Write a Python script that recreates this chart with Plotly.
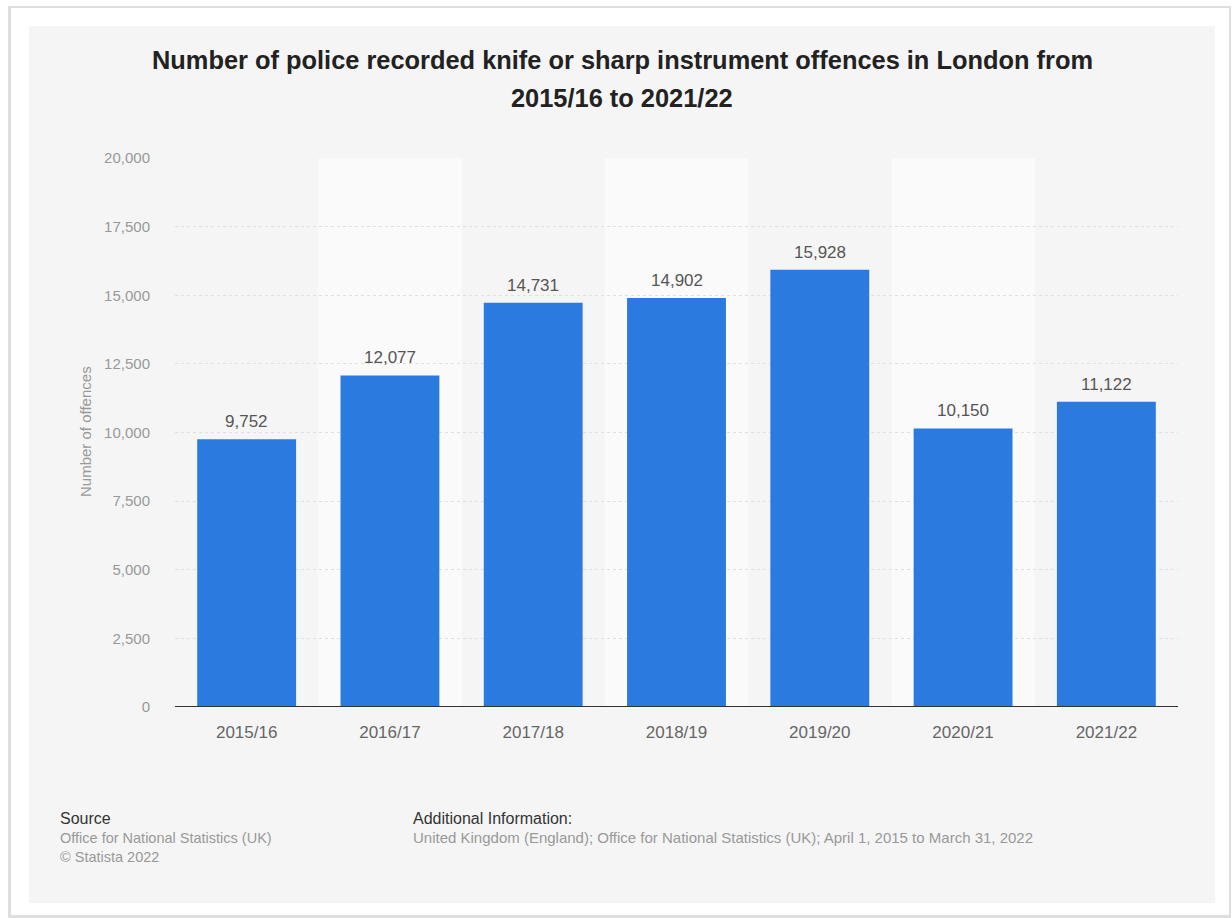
import plotly.graph_objects as go

years = ["2015/16", "2016/17", "2017/18", "2018/19", "2019/20", "2020/21", "2021/22"]
offences = [9752, 12077, 14731, 14902, 15928, 10150, 11122]
y_ticks = [0, 2500, 5000, 7500, 10000, 12500, 15000, 17500, 20000]

W, H = 1232, 918
PL, PR, PT, PB = 175, 1178, 158, 707  # plot area in pixels

def px(x):
    return (x - PL) / (PR - PL)

def py(y):
    return (PB - y) / (PB - PT)

font_fam = "Liberation Sans, Arial, Helvetica, sans-serif"

fig = go.Figure()
fig.add_trace(go.Bar(
    x=years, y=offences,
    marker=dict(color="#2b7ae0", line=dict(width=0)),
    width=0.69,
    cliponaxis=False,
    hoverinfo="x+y",
))

shapes = []
# outer shadow + white card
shapes.append(dict(type="rect", xref="paper", yref="paper",
                   x0=px(8), x1=px(1231), y0=py(918), y1=py(6),
                   fillcolor="#dedede", line=dict(width=0), layer="below"))
shapes.append(dict(type="rect", xref="paper", yref="paper",
                   x0=px(11), x1=px(1229), y0=py(915), y1=py(8),
                   fillcolor="#ffffff", line=dict(width=0), layer="below"))
# gray panel
shapes.append(dict(type="rect", xref="paper", yref="paper",
                   x0=px(29), x1=px(1215), y0=py(903), y1=py(26),
                   fillcolor="#f5f5f5", line=dict(width=0), layer="below"))
# alternating column bands
for i in range(len(years)):
    if i % 2 == 1:
        shapes.append(dict(type="rect", xref="x", yref="paper",
                           x0=i - 0.5, x1=i + 0.5, y0=0, y1=1,
                           fillcolor="#fafafa", line=dict(width=0), layer="below"))
# baseline
shapes.append(dict(type="line", xref="paper", yref="y",
                   x0=0, x1=1, y0=0, y1=0,
                   line=dict(color="#333333", width=2), layer="above"))

annotations = [
    dict(text="<b>Number of police recorded knife or sharp instrument offences in London from</b>",
         xref="paper", yref="paper", x=px(622), y=py(60), showarrow=False,
         xanchor="center", yanchor="middle",
         font=dict(family=font_fam, size=25.4, color="#222222")),
    dict(text="<b>2015/16 to 2021/22</b>",
         xref="paper", yref="paper", x=px(622), y=py(98), showarrow=False,
         xanchor="center", yanchor="middle",
         font=dict(family=font_fam, size=25.4, color="#222222")),
    dict(text="Number of offences", textangle=-90,
         xref="paper", yref="paper", x=px(85), y=py(432), showarrow=False,
         xanchor="center", yanchor="middle",
         font=dict(family=font_fam, size=15, color="#999999")),
    dict(text="Source", xref="paper", yref="paper", x=px(58), y=py(818),
         showarrow=False, xanchor="left", yanchor="middle",
         font=dict(family=font_fam, size=16, color="#333333")),
    dict(text="Office for National Statistics (UK)", xref="paper", yref="paper",
         x=px(58), y=py(838), showarrow=False, xanchor="left", yanchor="middle",
         font=dict(family=font_fam, size=14.5, color="#999999")),
    dict(text="© Statista 2022", xref="paper", yref="paper",
         x=px(58), y=py(857), showarrow=False, xanchor="left", yanchor="middle",
         font=dict(family=font_fam, size=14.5, color="#999999")),
    dict(text="Additional Information:", xref="paper", yref="paper",
         x=px(411), y=py(818), showarrow=False, xanchor="left", yanchor="middle",
         font=dict(family=font_fam, size=16, color="#333333")),
    dict(text="United Kingdom (England); Office for National Statistics (UK); April 1, 2015 to March 31, 2022",
         xref="paper", yref="paper", x=px(411), y=py(838), showarrow=False,
         xanchor="left", yanchor="middle",
         font=dict(family=font_fam, size=15, color="#999999")),
]
# value labels above bars
for yr, v in zip(years, offences):
    annotations.append(dict(
        text=f"{v:,}", xref="x", yref="y", x=yr, y=v, showarrow=False,
        xanchor="center", yanchor="bottom", yshift=6,
        font=dict(family=font_fam, size=17, color="#555555")))

fig.update_layout(
    width=W, height=H,
    margin=dict(l=PL, r=W - PR, t=PT, b=H - PB, pad=0),
    paper_bgcolor="#ffffff",
    plot_bgcolor="rgba(0,0,0,0)",
    showlegend=False,
    bargap=0.31,
    shapes=shapes,
    annotations=annotations,
    font=dict(family=font_fam),
    xaxis=dict(
        type="category", range=[-0.5, len(years) - 0.5],
        showgrid=False, showline=False, zeroline=False, ticks="",
        tickfont=dict(family=font_fam, size=17, color="#666666"),
        ticklabelstandoff=13,
    ),
    yaxis=dict(
        range=[0, 20000], tickvals=y_ticks,
        ticktext=[f"{v:,}" for v in y_ticks],
        showgrid=True, gridcolor="#e0e0e0", griddash="dot", gridwidth=1,
        zeroline=False, showline=False, ticks="",
        tickfont=dict(family=font_fam, size=15, color="#999999"),
        ticklabelstandoff=24,
    ),
)

fig.write_html("out.html")
